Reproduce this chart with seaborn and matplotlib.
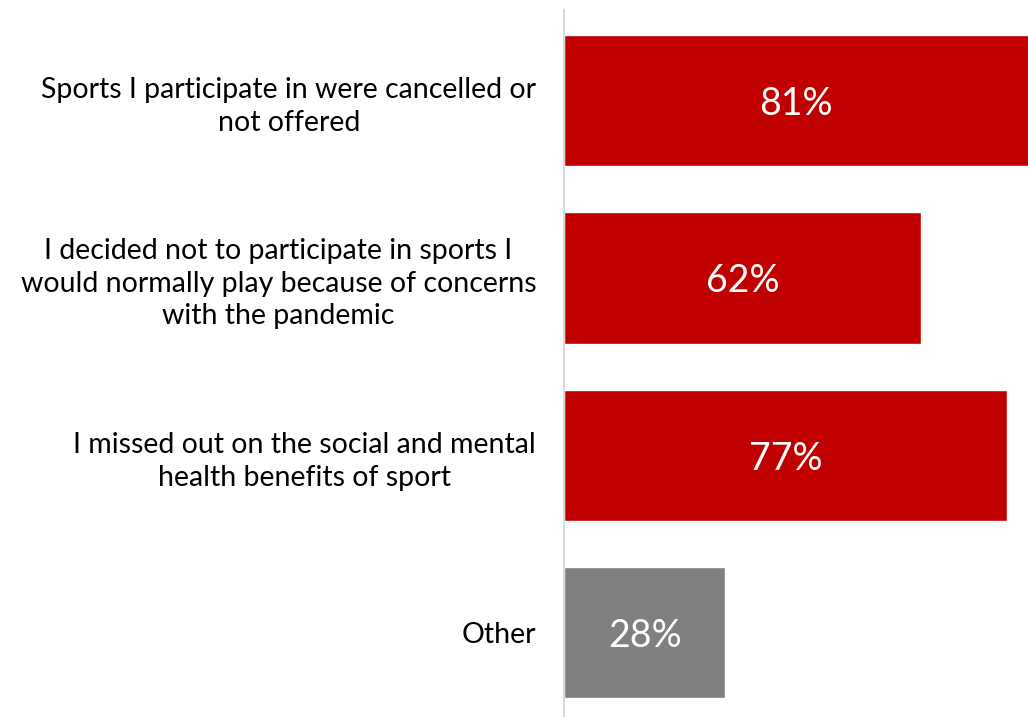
import matplotlib
matplotlib.use("Agg")
import matplotlib.pyplot as plt
import seaborn as sns
import pandas as pd

# Survey responses: reasons for reduced sport participation
categories = [
    "Sports I participate in were cancelled or\nnot offered",
    "I decided not to participate in sports I\nwould normally play because of concerns\nwith the pandemic",
    "I missed out on the social and mental\nhealth benefits of sport",
    "Other",
]
values = [81, 62, 77, 28]
bar_colors = ["#C00000", "#C00000", "#C00000", "#808080"]

df = pd.DataFrame({"reason": categories, "pct": values})

sns.set_theme(style="white")
plt.rcParams["font.family"] = ["Lato", "DejaVu Sans"]

fig = plt.figure(figsize=(10.28, 7.17), dpi=100)
ax = fig.add_axes([564 / 1028, 0.0, 1 - 564 / 1028, 1 - 10 / 717])

sns.barplot(data=df, x="pct", y="reason", hue="reason", palette=bar_colors,
            legend=False, width=0.74, ax=ax, saturation=1)

x_max = 80.6
ax.set_xlim(0, x_max)
ax.set_ylim(3.475, -0.51)
ax.set_xlabel("")
ax.set_ylabel("")
ax.set_xticks([])
for s in ["top", "right", "bottom"]:
    ax.spines[s].set_visible(False)
ax.spines["left"].set_color("#D9D9D9")
ax.spines["left"].set_linewidth(1.5)

ax.tick_params(axis="y", length=0, pad=20)
for lbl in ax.get_yticklabels():
    lbl.set_fontsize(20.5)
    lbl.set_color("#000000")
    lbl.set_horizontalalignment("right")
    lbl.set_multialignment("center")
    lbl.set_linespacing(1.32)

for i, v in enumerate(values):
    ax.text(min(v, x_max) / 2, i + 0.02, f"{v}%", color="white",
            fontsize=27, ha="center", va="center")

fig.savefig("out.png", dpi=100)
